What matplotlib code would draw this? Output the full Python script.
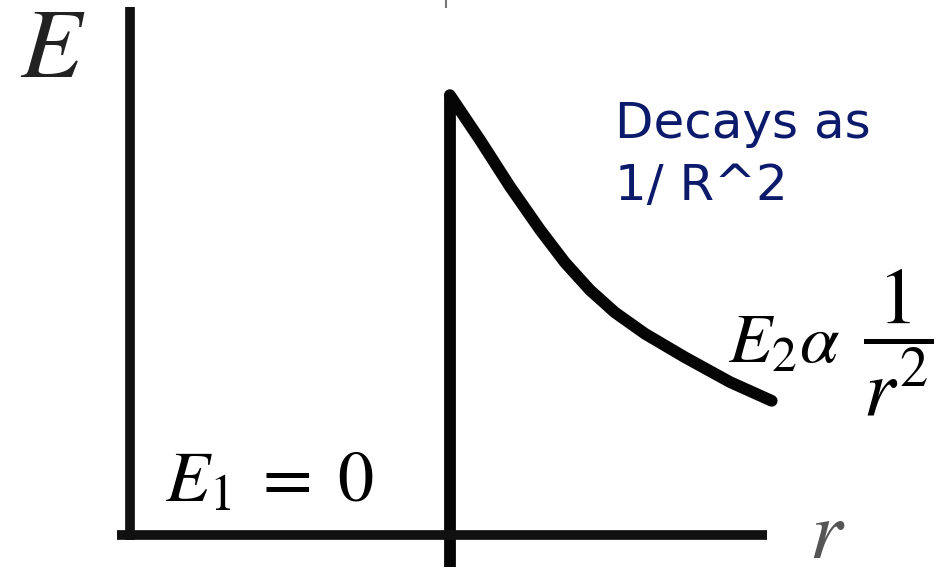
import matplotlib.pyplot as plt

plt.rcParams['mathtext.fontset'] = 'stix'

# field outside the shell (r > R)
r_vals = [5.0, 5.47, 5.94, 6.41, 6.80, 7.19, 7.58, 8.05, 8.67, 9.38, 10.03]
E_vals = [8.46, 7.60, 6.70, 5.87, 5.24, 4.71, 4.28, 3.87, 3.42, 2.94, 2.58]
R = 5.0
E_inside = 0

fig = plt.figure(figsize=(9.4, 5.76), dpi=100)
ax = fig.add_axes([0, 0, 1, 1])
ax.set_xlim(-2.03, 12.66)
ax.set_ylim(-0.79, 10.29)

# axes drawn as spines through the origin
for s in ['top', 'right']:
    ax.spines[s].set_visible(False)
ax.spines['left'].set_position(('data', 0))
ax.spines['bottom'].set_position(('data', 0))
ax.spines['left'].set_bounds(-0.1, 10.15)
ax.spines['bottom'].set_bounds(-0.2, 9.95)
for s in ['left', 'bottom']:
    ax.spines[s].set_linewidth(7)
    ax.spines[s].set_color('#111111')
    ax.spines[s].set_capstyle('butt')
ax.set_xticks([])
ax.set_yticks([])

# jump at r = R, then the decay
ax.plot([R, R], [-0.62, E_vals[0]], color='#050505', lw=8.5, solid_capstyle='butt')
ax.plot(r_vals, E_vals, color='#050505', lw=8.5,
        solid_capstyle='round', solid_joinstyle='round')
ax.plot([R - 0.06, R - 0.06], [10.15, 10.29], color='#777777', lw=1.5)

ax.text(-1.2, 9.34, '$E$', fontsize=72, color='#222222', ha='center', va='center')
ax.text(10.9, -0.45, '$r$', fontsize=60, color='#555555', ha='center', va='baseline')
ax.text(0.55, 0.64, '$E_1\\;=\\;0$', fontsize=52, color='black', ha='left', va='baseline')
ax.text(9.34, 3.31, '$E_2\\alpha$', fontsize=51, color='black', ha='left', va='baseline')
ax.text(12.0, 3.69, '$\\dfrac{1}{r^2}$', fontsize=58, color='black',
        ha='center', va='center')
ax.text(7.58, 8.36, 'Decays as\n1/ R^2', fontsize=36, color='#0b1a6b',
        ha='left', va='top', family='DejaVu Sans', linespacing=1.36)

fig.savefig('out.png', dpi=100, facecolor='white')
